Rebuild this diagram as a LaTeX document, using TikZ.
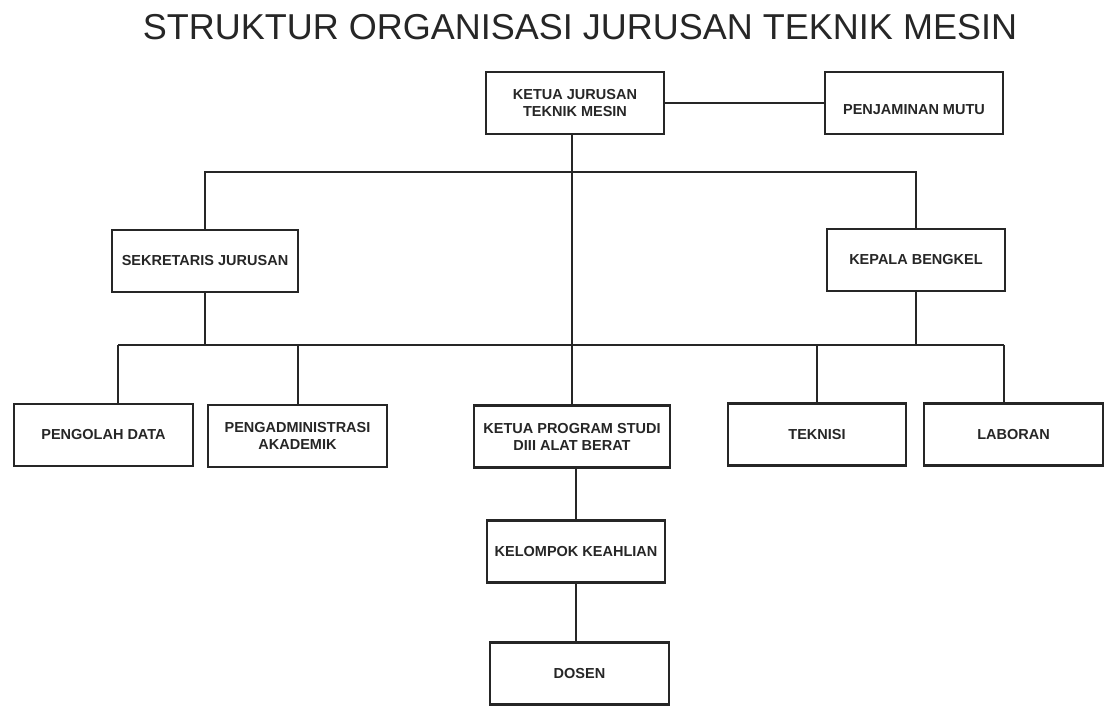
\documentclass[tikz,border=0pt]{standalone}
\usepackage{fontspec}
\setmainfont{Liberation Sans}
\usetikzlibrary{calc}

\tikzset{
  kotak/.style={draw=black!85, line width=2.2pt, minimum width=178pt, minimum height=62pt,
    inner sep=0pt, align=center, text=black!85, font=\bfseries\fontsize{14.5}{17}\selectfont},
  garis/.style={draw=black!85, line width=2pt}
}

\begin{document}
\begin{tikzpicture}[x=1pt,y=-1pt]
    %%%%% START %%%%%
    \useasboundingbox (0,0) rectangle (1117,720);

    \node[font=\fontsize{36}{40}\selectfont, text=black!85] (judul) at (580,27) {STRUKTUR ORGANISASI JURUSAN TEKNIK MESIN};

    \node[kotak] (ketua) at (575,103) {KETUA JURUSAN\\TEKNIK MESIN};
    \node[kotak] (mutu) at (914,103) {\raisebox{-11pt}[0pt][0pt]{PENJAMINAN MUTU}};

    \node[kotak, minimum width=186pt] (sekjur) at (205,261) {SEKRETARIS JURUSAN};
    \node[kotak] (kabeng) at (916,260) {KEPALA BENGKEL};

    \node[kotak, minimum width=179pt] (olah) at (103.5,435) {PENGOLAH DATA};
    \node[kotak, minimum width=179pt] (admin) at (297.5,436) {PENGADMINISTRASI\\AKADEMIK};
    \node[kotak, minimum width=196pt] (prodi) at (572,436.5) {KETUA PROGRAM STUDI\\DIII ALAT BERAT};
    \node[kotak] (teknisi) at (817,434.5) {TEKNISI};
    \node[kotak, minimum width=179pt] (laboran) at (1013.5,434.5) {LABORAN};

    \node[kotak] (kk) at (576,551.5) {KELOMPOK KEAHLIAN};
    \node[kotak, minimum width=179pt] (dosen) at (579.5,673.5) {DOSEN};

    \coordinate (atas) at (572,172);
    \coordinate (kiri) at (118,345);
    \coordinate (kanan) at (1004,345);

    \draw[garis] (ketua) -- (mutu);
    \draw[garis] (ketua.south -| prodi.north) -- (prodi.north);
    \draw[garis] (sekjur.north) |- (atas) -| (kabeng.north);

    \draw[garis] (kiri) -- (kanan);
    \draw[garis] (sekjur.south) -- (sekjur.south |- kiri);
    \draw[garis] (kabeng.south) -- (kabeng.south |- kanan);
    \draw[garis] (kiri) -- (kiri |- olah.north);
    \draw[garis] (admin.north |- kiri) -- (admin.north);
    \draw[garis] (teknisi.north |- kiri) -- (teknisi.north);
    \draw[garis] (kanan) -- (kanan |- laboran.north);

    \draw[garis] (prodi.south -| kk.north) -- (kk.north);
    \draw[garis] (kk.south) -- (kk.south |- dosen.north);

    %%%%% END %%%%%
\end{tikzpicture}
\end{document}
